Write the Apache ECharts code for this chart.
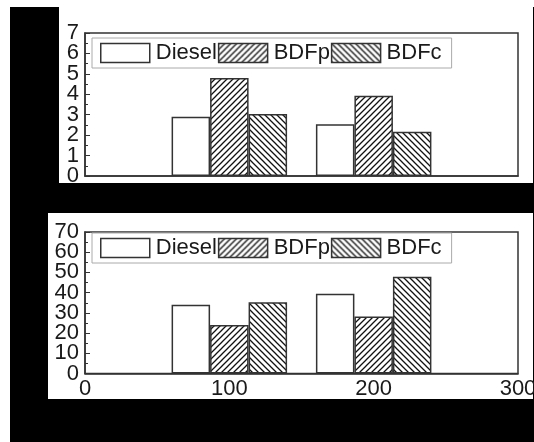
<!DOCTYPE html>
<html>
<head>
<meta charset="utf-8">
<script src="https://cdn.jsdelivr.net/npm/echarts@6/dist/echarts.min.js"></script>
<style>
  html, body { margin: 0; padding: 0; background: #fff; }
  #chart { width: 534px; height: 442px; }
</style>
</head>
<body>
<div id="chart"></div>
<script>
// 数据
var seriesNames = ['Diesel', 'BDFp', 'BDFc'];
var xPositions = [100, 200];
var topDiesel = [2.9, 2.53];
var topBDFp = [4.8, 3.93];
var topBDFc = [3.03, 2.17];
var bottomDiesel = [34, 39.4];
var bottomBDFp = [24, 28.2];
var bottomBDFc = [35.3, 47.9];
var xTicks = [0, 100, 200, 300];

var lineColor = '#333';
var textColor = '#1a1a1a';
var fontFamily = 'Liberation Sans, Arial, sans-serif';

// 斜线填充
function hatch(forward) {
    var c = document.createElement('canvas');
    var s = 6;
    c.width = s;
    c.height = s;
    var ctx = c.getContext('2d');
    ctx.fillStyle = '#fff';
    ctx.fillRect(0, 0, s, s);
    ctx.strokeStyle = '#111';
    ctx.lineWidth = 1.3;
    ctx.beginPath();
    if (forward) {
        ctx.moveTo(0, s); ctx.lineTo(s, 0);
        ctx.moveTo(-1, 1); ctx.lineTo(1, -1);
        ctx.moveTo(s - 1, s + 1); ctx.lineTo(s + 1, s - 1);
    } else {
        ctx.moveTo(0, 0); ctx.lineTo(s, s);
        ctx.moveTo(s - 1, -1); ctx.lineTo(s + 1, 1);
        ctx.moveTo(-1, s - 1); ctx.lineTo(1, s + 1);
    }
    ctx.stroke();
    return { image: c, repeat: 'repeat' };
}

var fills = ['#fff', hatch(true), hatch(false)];

function toPairs(vals) {
    return xPositions.map(function (x, i) { return [x, vals[i]]; });
}

function makeSeries(idx, data) {
    return data.map(function (vals, k) {
        return {
            name: seriesNames[k],
            type: 'bar',
            xAxisIndex: idx,
            yAxisIndex: idx,
            barWidth: 38.5,
            barGap: '0%',
            itemStyle: { color: fills[k], borderColor: lineColor, borderWidth: 1.5 },
            data: toPairs(vals)
        };
    });
}

function makeLegend(top) {
    return {
        left: 92,
        top: top,
        orient: 'horizontal',
        icon: 'rect',
        itemWidth: 49,
        itemHeight: 19,
        itemGap: 1,
        padding: [4, 10, 4, 8],
        borderColor: '#aaa',
        borderWidth: 1,
        selectedMode: false,
        textStyle: { fontSize: 22, color: textColor, fontFamily: fontFamily, padding: [0, 0, 0, 1] },
        data: seriesNames.map(function (n, k) {
            return { name: n, itemStyle: { color: fills[k], borderColor: lineColor, borderWidth: 1.5 } };
        })
    };
}

// 刻度标签太密，奇偶分两条轴显示，避免被自动隐藏
function yAxis(idx, max, interval, odd) {
    return {
        type: 'value',
        gridIndex: idx,
        position: 'left',
        offset: 0,
        min: 0,
        max: max,
        interval: interval,
        axisLine: { show: !odd, lineStyle: { color: lineColor, width: 1.5 } },
        axisTick: { show: !odd, inside: true, length: 5, lineStyle: { color: lineColor } },
        minorTick: { show: !odd, splitNumber: 2, length: 3, lineStyle: { color: lineColor } },
        splitLine: { show: false },
        axisLabel: {
            fontSize: 22, color: textColor, fontFamily: fontFamily, margin: 6,
            showMinLabel: odd ? null : true,
            showMaxLabel: odd ? true : null,
            formatter: function (v) {
                var n = Math.round(v / interval);
                return (n % 2 === 1) === odd ? String(v) : '';
            }
        }
    };
}

function xAxis(idx, showLabel) {
    return {
        type: 'value',
        gridIndex: idx,
        min: xTicks[0],
        max: xTicks[xTicks.length - 1],
        interval: 100,
        axisLine: { show: true, lineStyle: { color: lineColor, width: 1.5 } },
        axisTick: { show: false },
        splitLine: { show: false },
        axisLabel: {
            show: showLabel, fontSize: 22, color: textColor, fontFamily: fontFamily, margin: 4,
            showMinLabel: true, showMaxLabel: true
        }
    };
}

var dom = echarts.init(document.getElementById('chart'));
var option = {
    animation: false,
    backgroundColor: '#fff',
    graphic: [
        { type: 'rect', z: -10, shape: { x: 10, y: 7, width: 524, height: 435 }, style: { fill: '#000' } },
        { type: 'rect', z: -9, shape: { x: 59, y: 7, width: 474, height: 176 }, style: { fill: '#fff' } },
        { type: 'rect', z: -9, shape: { x: 48, y: 213, width: 485, height: 186 }, style: { fill: '#fff' } }
    ],
    grid: [
        { left: 85, top: 33, width: 433, height: 143, outerBoundsMode: 'none', show: true, borderColor: lineColor, borderWidth: 1.5, backgroundColor: 'transparent' },
        { left: 85, top: 232, width: 433, height: 141.5, outerBoundsMode: 'none', show: true, borderColor: lineColor, borderWidth: 1.5, backgroundColor: 'transparent' }
    ],
    legend: [makeLegend(38), makeLegend(233)],
    xAxis: [xAxis(0, false), xAxis(1, true)],
    yAxis: [
        yAxis(0, 7, 1, false), yAxis(1, 70, 10, false),
        yAxis(0, 7, 1, true), yAxis(1, 70, 10, true)
    ],
    series: makeSeries(0, [topDiesel, topBDFp, topBDFc])
        .concat(makeSeries(1, [bottomDiesel, bottomBDFp, bottomBDFc]))
};
dom.setOption(option);
</script>
</body>
</html>
